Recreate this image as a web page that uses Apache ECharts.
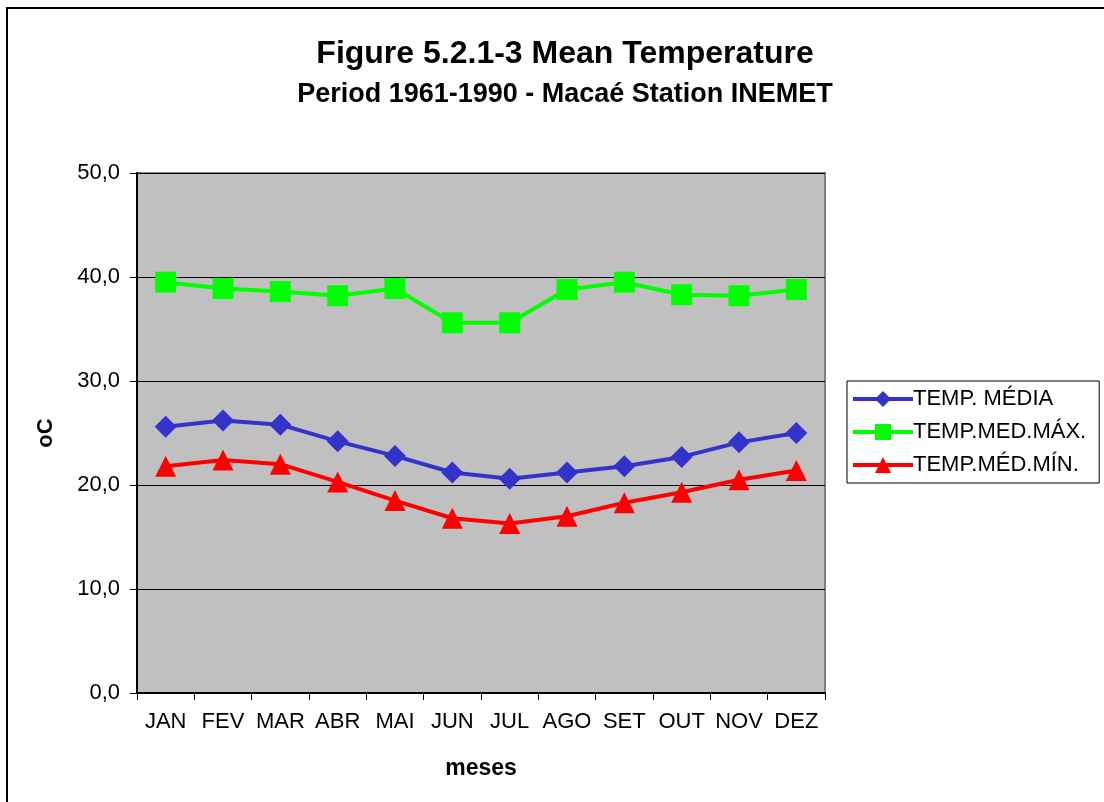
<!DOCTYPE html>
<html>
<head>
<meta charset="utf-8">
<script src="https://cdn.jsdelivr.net/npm/echarts@6/dist/echarts.min.js"></script>
<style>
  html, body { margin: 0; padding: 0; background: #fff; }
  #main { width: 1104px; height: 802px; }
</style>
</head>
<body>
<div id="main"></div>
<script>
var meses = ['JAN', 'FEV', 'MAR', 'ABR', 'MAI', 'JUN', 'JUL', 'AGO', 'SET', 'OUT', 'NOV', 'DEZ'];

var tempMedia = [25.6, 26.2, 25.8, 24.2, 22.8, 21.2, 20.6, 21.2, 21.8, 22.7, 24.1, 25.0];
var tempMax = [39.5, 38.9, 38.6, 38.2, 38.9, 35.6, 35.6, 38.8, 39.5, 38.3, 38.2, 38.8];
var tempMin = [21.8, 22.4, 22.0, 20.3, 18.5, 16.8, 16.3, 17.0, 18.3, 19.3, 20.5, 21.4];

var nomes = ['TEMP. MÉDIA', 'TEMP.MED.MÁX.', 'TEMP.MÉD.MÍN.'];

var font = 'Liberation Sans, Arial, sans-serif';
var chart = echarts.init(document.getElementById('main'));

function serie(nome, dados, cor, simbolo, tamanho) {
  return {
    name: nome,
    type: 'line',
    data: dados,
    symbol: simbolo,
    symbolSize: tamanho,
    showAllSymbol: true,
    animation: false,
    lineStyle: { color: cor, width: 4 },
    itemStyle: { color: cor },
    emphasis: { disabled: true }
  };
}

var option = {
  backgroundColor: '#ffffff',
  title: [
    {
      text: 'Figure 5.2.1-3 Mean Temperature',
      left: 560, top: 33, textAlign: 'center',
      textStyle: { fontFamily: font, fontSize: 32, fontWeight: 'bold', color: '#000' }
    },
    {
      text: 'Period 1961-1990 - Macaé Station INEMET',
      left: 560, top: 76, textAlign: 'center',
      textStyle: { fontFamily: font, fontSize: 27, fontWeight: 'bold', color: '#000' }
    }
  ],
  graphic: [
    {
      type: 'rect',
      shape: { x: 7, y: 8, width: 1110, height: 810 },
      style: { fill: 'none', stroke: '#000', lineWidth: 2 },
      silent: true
    }
  ],
  legend: {
    orient: 'vertical',
    left: 847, top: 381,
    padding: [7, 13, 7, 4],
    itemGap: 11,
    itemWidth: 60,
    itemHeight: 20,
    borderColor: '#000',
    borderWidth: 1,
    data: nomes,
    lineStyle: { width: 4 },
    textStyle: { fontFamily: font, fontSize: 22, color: '#000', padding: [0, 0, 0, -5] }
  },
  grid: {
    left: 137, right: 279, top: 173, bottom: 109,
    show: true,
    backgroundColor: '#c0c0c0',
    borderColor: '#808080',
    borderWidth: 2
  },
  xAxis: {
    type: 'category',
    data: meses,
    boundaryGap: true,
    name: 'meses',
    nameLocation: 'middle',
    nameGap: 64,
    nameTextStyle: { fontFamily: font, fontSize: 23, fontWeight: 'bold', color: '#000' },
    axisLine: { lineStyle: { color: '#000', width: 2 } },
    axisTick: { show: true, interval: 0, length: 7, lineStyle: { color: '#000' } },
    axisLabel: { interval: 0, fontFamily: font, fontSize: 22, color: '#000', margin: 18 },
    splitLine: { show: false }
  },
  yAxis: {
    type: 'value',
    min: 0, max: 50, interval: 10,
    name: 'oC',
    nameLocation: 'middle',
    nameGap: 80,
    nameRotate: 90,
    nameTextStyle: { fontFamily: font, fontSize: 22, fontWeight: 'bold', color: '#000' },
    axisLine: { show: true, lineStyle: { color: '#000', width: 2 } },
    axisTick: { show: true, length: 7, lineStyle: { color: '#000' } },
    axisLabel: {
      fontFamily: font, fontSize: 22, color: '#000', margin: 17,
      formatter: function (v) { return v.toFixed(1).replace('.', ','); }
    },
    splitLine: { show: true, lineStyle: { color: '#000', width: 1 } }
  },
  series: [
    serie(nomes[0], tempMedia, '#3333cc', 'diamond', 22),
    serie(nomes[1], tempMax, '#00ff00', 'rect', 21),
    serie(nomes[2], tempMin, '#ff0000', 'triangle', 21)
  ]
};

chart.setOption(option);
</script>
</body>
</html>
